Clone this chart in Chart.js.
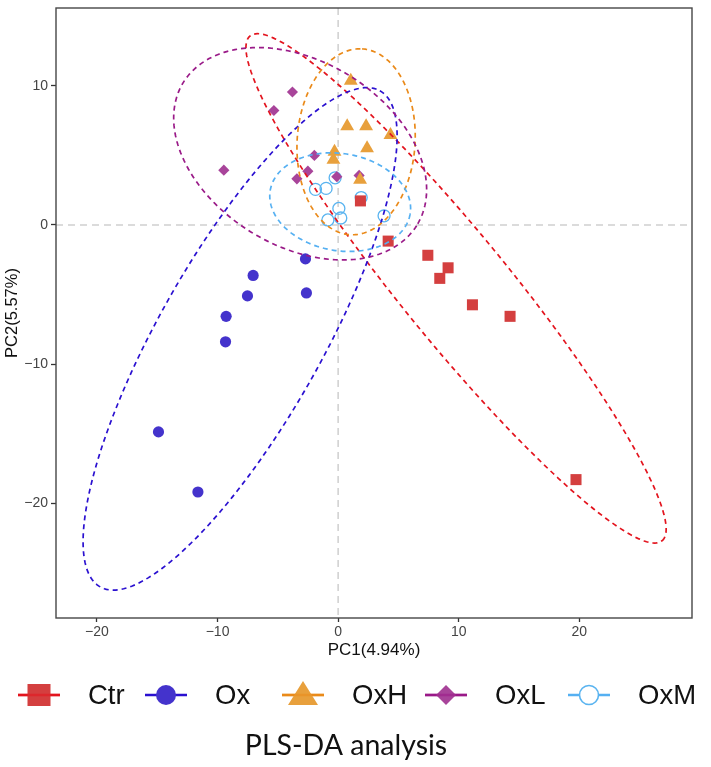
<!DOCTYPE html>
<html>
<head>
<meta charset="utf-8">
<script src="https://cdn.jsdelivr.net/npm/chart.js@4/dist/chart.umd.min.js"></script>
<style>
  html, body { margin: 0; padding: 0; background: #fff; }
  #wrap { position: relative; width: 711px; height: 767px; }
  #c { position: absolute; left: 0; top: 0; }
  .lg-key { position: absolute; }
  .lg-txt { position: absolute; font-family: "Liberation Sans", Arial, sans-serif; font-size: 27.5px; color: #111; line-height: 32px; height: 32px; white-space: nowrap; }
</style>
</head>
<body>
<div id="wrap">
  <canvas id="c" width="711" height="767"></canvas>
  <div id="legend"></div>
</div>
<script>
// ---- data ----
const groups = ["Ctr", "Ox", "OxH", "OxL", "OxM"];

const ctrX = [1.85, 4.15, 7.44, 9.12, 8.43, 11.14, 14.26, 19.73];
const ctrY = [1.73, -1.16, -2.18, -3.08, -3.84, -5.74, -6.57, -18.31];

const oxX = [-2.71, -7.05, -7.52, -2.63, -9.29, -9.34, -14.9, -11.63];
const oxY = [-2.44, -3.63, -5.10, -4.89, -6.57, -8.40, -14.88, -19.2];

const oxhX = [1.05, 0.75, 2.32, 4.34, 2.40, -0.30, -0.39, 1.82];
const oxhY = [10.37, 7.1, 7.1, 6.46, 5.51, 5.27, 4.68, 3.25];

const oxlX = [-5.33, -9.48, -3.79, -1.97, -2.51, -3.42, -0.11, 1.74];
const oxlY = [8.23, 3.94, 9.56, 5.0, 3.87, 3.32, 3.47, 3.56];

const oxmX = [-0.25, -1.0, -1.88, 1.91, 0.06, 0.22, -0.85, 3.81];
const oxmY = [3.39, 2.63, 2.56, 1.97, 1.19, 0.5, 0.36, 0.66];

// 95% ellipses: centre and two conjugate half-axis vectors (data units)
const ellCx = [9.78, -8.13, 1.49, -3.15, 0.17];
const ellCy = [-4.56, -8.19, 5.98, 5.12, 1.64];
const ellAx = [17.08, 11.59, 0.5, 9.66, 5.8];
const ellAy = [-18.15, 17.84, 6.68, -5.17, -0.86];
const ellBx = [3.46, 5.94, 4.88, -4.09, -0.69];
const ellBy = [2.43, -2.84, -0.27, -5.62, -3.44];

const xTicks = [-20, -10, 0, 10, 20];
const yTicks = [-20, -10, 0, 10];
const xRange = [-23.4, 29.35];
const yRange = [-28.26, 15.6];

// ---- styles ----
const pointColors = ["#d43f3f", "#4433cc", "#e8a03c", "#a8449a", "#5ab4f0"];
const lineColors  = ["#e3141e", "#2a10d0", "#ea8a1a", "#9a1a88", "#55b0f2"];
const shapes = ["rect", "circle", "triangle", "rectRot", "circle"];
const radii  = [7.8, 5.6, 8, 5.6, 6];

const xsAll = [ctrX, oxX, oxhX, oxlX, oxmX];
const ysAll = [ctrY, oxY, oxhY, oxlY, oxmY];

const datasets = groups.map((g, k) => ({
  label: g,
  data: xsAll[k].map((x, i) => ({ x: x, y: ysAll[k][i] })),
  pointStyle: shapes[k],
  pointRadius: radii[k],
  pointHoverRadius: radii[k],
  backgroundColor: k === 4 ? "rgba(255,255,255,0)" : pointColors[k],
  borderColor: pointColors[k],
  borderWidth: k === 4 ? 1.3 : 0,
  showLine: false
}));

const minus = v => (v < 0 ? "\u2212" + Math.abs(v) : String(v));

const decor = {
  id: "decor",
  beforeDatasetsDraw(chart) {
    const { ctx, chartArea: a, scales: { x, y } } = chart;
    ctx.save();
    ctx.strokeStyle = "#cfcfcf";
    ctx.lineWidth = 1.5;
    ctx.setLineDash([7, 5]);
    const x0 = x.getPixelForValue(0), y0 = y.getPixelForValue(0);
    ctx.beginPath(); ctx.moveTo(x0, a.top); ctx.lineTo(x0, a.bottom); ctx.stroke();
    ctx.beginPath(); ctx.moveTo(a.left, y0); ctx.lineTo(a.right, y0); ctx.stroke();
    ctx.restore();
  },
  afterDatasetsDraw(chart) {
    const { ctx, chartArea: a, scales: { x, y } } = chart;
    ctx.save();
    ctx.beginPath(); ctx.rect(a.left, a.top, a.right - a.left, a.bottom - a.top); ctx.clip();
    ctx.lineWidth = 1.7;
    ctx.setLineDash([5, 4]);
    for (let k = 0; k < groups.length; k++) {
      ctx.strokeStyle = lineColors[k];
      ctx.beginPath();
      const N = 240;
      for (let i = 0; i <= N; i++) {
        const t = (i / N) * Math.PI * 2;
        const vx = ellCx[k] + ellAx[k] * Math.cos(t) + ellBx[k] * Math.sin(t);
        const vy = ellCy[k] + ellAy[k] * Math.cos(t) + ellBy[k] * Math.sin(t);
        const px = x.getPixelForValue(vx), py = y.getPixelForValue(vy);
        if (i === 0) ctx.moveTo(px, py); else ctx.lineTo(px, py);
      }
      ctx.stroke();
    }
    ctx.restore();
    // panel border
    ctx.save();
    ctx.strokeStyle = "#474747";
    ctx.lineWidth = 1.4;
    ctx.strokeRect(a.left, a.top, a.right - a.left, a.bottom - a.top);
    ctx.restore();
  }
};

new Chart(document.getElementById("c"), {
  type: "scatter",
  data: { datasets: datasets },
  options: {
    responsive: false,
    devicePixelRatio: 1,
    animation: false,
    layout: { padding: { left: 0, right: 19, top: 2, bottom: 0 } },
    plugins: {
      legend: { display: false },
      tooltip: { enabled: false },
      title: {
        display: true,
        position: "bottom",
        text: "PLS-DA analysis",
        color: "#111",
        font: { family: "Lato, 'Open Sans', sans-serif", size: 28.5, weight: "normal", lineHeight: 1.2 },
        padding: { top: 66.5, bottom: 4.3 }
      }
    },
    scales: {
      x: {
        type: "linear",
        min: xRange[0], max: xRange[1],
        afterBuildTicks: s => { s.ticks = xTicks.map(v => ({ value: v })); },
        afterFit: s => { s.height = 44; s.paddingLeft = 0; s.paddingRight = 0; },
        grid: { drawOnChartArea: false, drawTicks: true, tickLength: 4, tickColor: "#333", tickWidth: 1.3 },
        border: { display: false },
        ticks: {
          padding: 2, color: "#444",
          font: { family: "'Liberation Sans', Arial, sans-serif", size: 14 },
          maxRotation: 0, autoSkip: false,
          callback: v => minus(v)
        },
        title: {
          display: true, text: "PC1(4.94%)", color: "#111",
          font: { family: "'Liberation Sans', Arial, sans-serif", size: 17 },
          padding: { top: 0, bottom: 1.8 }
        }
      },
      y: {
        type: "linear",
        min: yRange[0], max: yRange[1],
        afterBuildTicks: s => { s.ticks = yTicks.map(v => ({ value: v })); },
        afterFit: s => { s.width = 56; s.paddingTop = 0; s.paddingBottom = 0; },
        grid: { drawOnChartArea: false, drawTicks: true, tickLength: 5, tickColor: "#333", tickWidth: 1.3 },
        border: { display: false },
        ticks: {
          padding: 3, color: "#444",
          font: { family: "'Liberation Sans', Arial, sans-serif", size: 14 },
          autoSkip: false,
          callback: v => minus(v)
        },
        title: {
          display: true, text: "PC2(5.57%)", color: "#111",
          font: { family: "'Liberation Sans', Arial, sans-serif", size: 16.5 },
          padding: { top: 3, bottom: 0 }
        }
      }
    }
  },
  plugins: [decor]
});

// ---- legend (keys: line + marker) ----
const legendKeyX = [18, 145, 282, 425, 568];
const legendY = 695;
const legend = document.getElementById("legend");
groups.forEach((g, k) => {
  const kc = document.createElement("canvas");
  kc.width = 44; kc.height = 34;
  kc.className = "lg-key";
  kc.style.left = legendKeyX[k] + "px";
  kc.style.top = (legendY - 17) + "px";
  const c = kc.getContext("2d");
  const cx = 21, cy = 17;
  c.strokeStyle = lineColors[k];
  c.lineWidth = 2.6;
  c.beginPath(); c.moveTo(0, cy); c.lineTo(42, cy); c.stroke();
  c.fillStyle = pointColors[k];
  c.beginPath();
  if (k === 0) { c.fillRect(cx - 11.5, cy - 11, 23, 22); }
  else if (k === 1) { c.arc(cx, cy, 10, 0, Math.PI * 2); c.fill(); }
  else if (k === 2) { c.moveTo(cx, cy - 14); c.lineTo(cx + 15, cy + 10); c.lineTo(cx - 15, cy + 10); c.closePath(); c.fill(); }
  else if (k === 3) { c.moveTo(cx, cy - 10); c.lineTo(cx + 10, cy); c.lineTo(cx, cy + 10); c.lineTo(cx - 10, cy); c.closePath(); c.fill(); }
  else { c.fillStyle = "#fff"; c.arc(cx, cy, 9.5, 0, Math.PI * 2); c.fill(); c.strokeStyle = pointColors[k]; c.lineWidth = 1.6; c.stroke(); }
  if (k === 0 || k === 2 || k === 3) {
    // line shows through the marker like ggplot's legend key
    c.strokeStyle = lineColors[k]; c.lineWidth = 2.6; c.globalAlpha = 0.55;
    c.beginPath(); c.moveTo(0, cy); c.lineTo(42, cy); c.stroke(); c.globalAlpha = 1;
  }
  legend.appendChild(kc);
  const t = document.createElement("div");
  t.className = "lg-txt";
  t.textContent = g;
  t.style.left = (legendKeyX[k] + 70) + "px";
  t.style.top = (legendY - 16) + "px";
  legend.appendChild(t);
});
</script>
</body>
</html>
